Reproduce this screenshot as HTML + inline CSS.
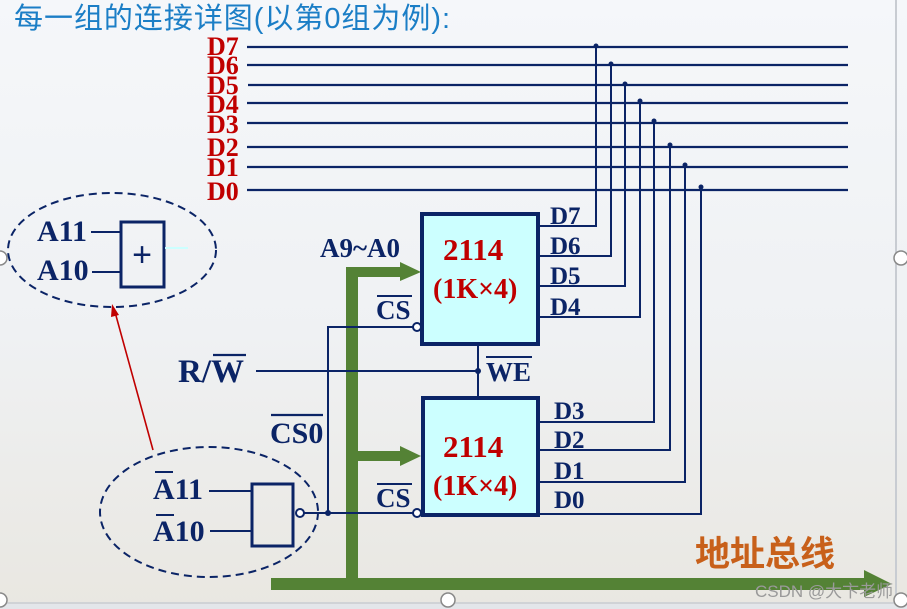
<!DOCTYPE html>
<html><head><meta charset="utf-8"><style>
html,body{margin:0;padding:0;width:907px;height:609px;overflow:hidden;background:#f2f4f7}
svg{display:block}
.s{font-family:"Liberation Serif",serif;font-weight:bold}
</style></head><body>
<svg width="907" height="609" viewBox="0 0 907 609" xmlns="http://www.w3.org/2000/svg">
<defs>
<linearGradient id="bg" x1="0" y1="0" x2="0" y2="1">
<stop offset="0" stop-color="#f5f7fa"/><stop offset="0.55" stop-color="#eff1f3"/><stop offset="1" stop-color="#e9e7e1"/>
</linearGradient>
</defs>
<rect x="0" y="0" width="907" height="609" fill="url(#bg)"/>
<line x1="896" y1="0" x2="896" y2="603" stroke="#c8ccd2" stroke-width="2"/>
<line x1="0" y1="603" x2="907" y2="603" stroke="#c8ccd2" stroke-width="1.5"/>
<rect x="0" y="604" width="907" height="5" fill="#e3e6ea"/>
<g fill="#fff" stroke="#888" stroke-width="1.5">
<circle cx="0" cy="258" r="7"/><circle cx="901" cy="258" r="7"/><circle cx="448" cy="600" r="7"/><circle cx="901" cy="600" r="7"/><circle cx="0" cy="600" r="7"/>
</g>

<text x="14" y="28" font-family="'Liberation Sans','Noto Sans CJK SC',sans-serif" font-size="29" fill="#1b7ec6" textLength="436">每一组的连接详图(以第0组为例):</text>

<g stroke="#0b2466" stroke-width="2.2">
<line x1="247" y1="47" x2="848" y2="47"/>
<line x1="247" y1="65" x2="848" y2="65"/>
<line x1="248" y1="85" x2="848" y2="85"/>
<line x1="247" y1="103" x2="848" y2="103"/>
<line x1="247" y1="123" x2="848" y2="123"/>
<line x1="247" y1="147" x2="848" y2="147"/>
<line x1="247" y1="167" x2="848" y2="167"/>
<line x1="247" y1="190" x2="848" y2="190"/>
</g>
<g class="s" fill="#c00000" font-size="26">
<text x="207" y="55">D7</text><text x="207" y="74">D6</text><text x="207" y="94">D5</text><text x="207" y="113">D4</text>
<text x="207" y="133">D3</text><text x="207" y="156">D2</text><text x="207" y="176">D1</text><text x="207" y="200">D0</text>
</g>
<g stroke="#0b2466" stroke-width="2" fill="none">
<polyline points="539,226 596,226 596,46"/>
<polyline points="539,256 611,256 611,64"/>
<polyline points="539,286 625,286 625,84"/>
<polyline points="539,317 640,317 640,101"/>
<polyline points="539,422 654,422 654,121"/>
<polyline points="539,450 670,450 670,145"/>
<polyline points="539,482 685,482 685,165"/>
<polyline points="539,514 701,514 701,187"/>
</g>
<g fill="#0b2466">
<circle cx="596" cy="46" r="2.5"/><circle cx="611" cy="64" r="2.5"/><circle cx="625" cy="84" r="2.5"/><circle cx="640" cy="101" r="2.5"/>
<circle cx="654" cy="121" r="2.5"/><circle cx="670" cy="145" r="2.5"/><circle cx="685" cy="165" r="2.5"/><circle cx="701" cy="187" r="2.5"/>
</g>

<g fill="#548235">
<rect x="346" y="267" width="12" height="323"/>
<rect x="271" y="578" width="595" height="12"/>
<polygon points="864,570 892,584 864,597"/>
<rect x="356" y="267" width="46" height="10"/>
<polygon points="400,262 421,272 400,281"/>
<rect x="356" y="451" width="46" height="10"/>
<polygon points="400,446 421,456 400,466"/>
</g>

<rect x="422" y="214" width="116" height="130" fill="#ccffff" stroke="#0b2466" stroke-width="4"/>
<rect x="423" y="398" width="115" height="117" fill="#ccffff" stroke="#0b2466" stroke-width="4"/>
<g class="s" fill="#c00000">
<text x="443" y="260" font-size="31">2114</text><text x="433" y="298" font-size="28">(1K×4)</text>
<text x="443" y="457" font-size="31">2114</text><text x="433" y="495" font-size="28">(1K×4)</text>
</g>
<g class="s" fill="#0b2466" font-size="25">
<text x="550" y="224">D7</text><text x="550" y="254">D6</text><text x="550" y="284">D5</text><text x="550" y="315">D4</text>
<text x="554" y="419">D3</text><text x="554" y="448">D2</text><text x="554" y="479">D1</text><text x="554" y="508">D0</text>
<text x="320" y="257" font-size="27">A9~A0</text>
<text x="376" y="319" font-size="27">CS</text><text x="376" y="507" font-size="27">CS</text>
<text x="486" y="381" font-size="27">WE</text>
</g>
<g stroke="#0b2466" stroke-width="2">
<line x1="377" y1="296" x2="412" y2="296"/><line x1="377" y1="484" x2="412" y2="484"/>
<line x1="486" y1="357" x2="532" y2="357"/>
</g>

<g stroke="#0b2466" stroke-width="2" fill="none">
<polyline points="413,327 328,327 328,513"/>
<line x1="304" y1="513" x2="413" y2="513"/>
<line x1="256" y1="371" x2="478" y2="371"/>
<line x1="478" y1="345" x2="478" y2="396"/>
</g>
<g fill="#fff" stroke="#0b2466" stroke-width="2">
<circle cx="417" cy="327" r="4"/><circle cx="417" cy="513" r="4"/><circle cx="300" cy="513" r="4"/>
</g>
<circle cx="328" cy="513" r="3" fill="#0b2466"/><circle cx="478" cy="371" r="3" fill="#0b2466"/>

<g class="s" fill="#0b2466">
<text x="178" y="382" font-size="33">R/W</text>
<text x="270" y="443" font-size="30">CS0</text>
</g>
<g stroke="#0b2466" stroke-width="2.2">
<line x1="213" y1="355" x2="246" y2="355"/>
<line x1="271" y1="415" x2="323" y2="415"/>
</g>

<rect x="252" y="484" width="41" height="62" fill="none" stroke="#0b2466" stroke-width="3"/>
<g stroke="#0b2466" stroke-width="2">
<line x1="209" y1="491" x2="252" y2="491"/><line x1="210" y1="531" x2="252" y2="531"/>
<line x1="155" y1="472" x2="173" y2="472"/><line x1="156" y1="515" x2="174" y2="515"/>
</g>
<g class="s" fill="#0b2466" font-size="30">
<text x="153" y="499">A11</text><text x="153" y="541">A10</text>
</g>
<ellipse cx="209" cy="512" rx="109" ry="65" fill="none" stroke="#0b2466" stroke-width="2" stroke-dasharray="8,5"/>

<ellipse cx="112" cy="250" rx="104" ry="57" fill="none" stroke="#0b2466" stroke-width="2" stroke-dasharray="8,5"/>
<rect x="121" y="222" width="43" height="65" fill="none" stroke="#0b2466" stroke-width="3"/>
<g stroke="#0b2466" stroke-width="2">
<line x1="91" y1="232" x2="121" y2="232"/><line x1="92" y1="272" x2="121" y2="272"/>
</g>
<line x1="165" y1="248" x2="188" y2="248" stroke="#ccffff" stroke-width="2"/>
<text x="142" y="266" text-anchor="middle" font-family="'Liberation Sans',sans-serif" font-size="34" fill="#0b2466">+</text>
<g class="s" fill="#0b2466" font-size="30">
<text x="37" y="241">A11</text><text x="37" y="280">A10</text>
</g>
<line x1="153" y1="450" x2="115" y2="312" stroke="#c00000" stroke-width="1.6"/>
<polygon points="112,304 111,317 119,315" fill="#c00000"/>

<text x="695" y="566" font-family="'Liberation Sans','Noto Sans CJK SC',sans-serif" font-weight="bold" font-size="35" fill="#c8601a">地址总线</text>
<text x="755" y="597" font-family="'Liberation Sans','Noto Sans CJK SC',sans-serif" font-size="17" fill="#9a9a9a">CSDN @大卞老师</text>
</svg>
</body></html>
